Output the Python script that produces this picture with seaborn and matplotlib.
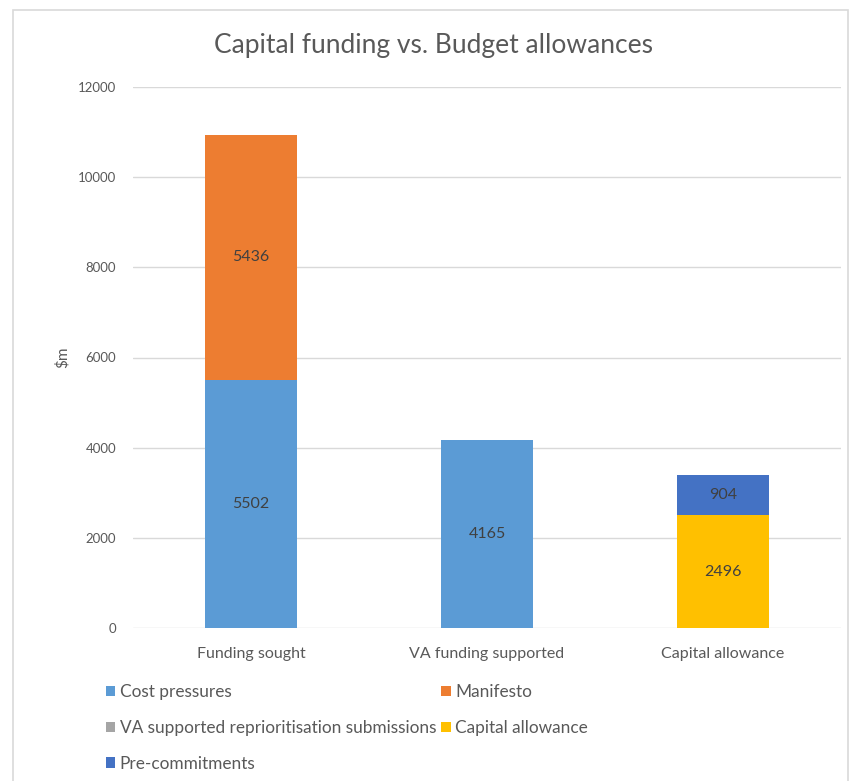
import matplotlib
matplotlib.use("Agg")
import matplotlib.pyplot as plt
import seaborn as sns
import pandas as pd
import numpy as np
from matplotlib.patches import Patch, Rectangle

categories = ["Funding sought", "VA funding supported", "Capital allowance"]
cost_pressures = [5502, 4165, 0]
manifesto = [5436, 0, 0]
va_reprioritisation = [0, 0, 0]
capital_allowance = [0, 0, 2496]
pre_commitments = [0, 0, 904]
series_names = ["Cost pressures", "Manifesto", "VA supported reprioritisation submissions",
                "Capital allowance", "Pre-commitments"]
series_values = [cost_pressures, manifesto, va_reprioritisation, capital_allowance, pre_commitments]
colors = ["#5B9BD5", "#ED7D31", "#A5A5A5", "#FFC000", "#4472C4"]
y_ticks = [0, 2000, 4000, 6000, 8000, 10000, 12000]

sns.set_theme(style="white")
plt.rcParams['font.family'] = ['Lato', 'DejaVu Sans']

fig = plt.figure(figsize=(8.52, 7.81), dpi=100)
ax = fig.add_axes([133/852, 1 - 628/781, (841 - 133)/852, (628 - 87)/781])

# frame around chart
fig.patches.append(Rectangle((13/852, -0.01), (848 - 13)/852, 1 - 10/781 + 0.01,
                             transform=fig.transFigure, fill=False,
                             edgecolor="#D9D9D9", linewidth=1.2))

bottom = np.zeros(len(categories))
for name, vals, col in zip(series_names, series_values, colors):
    df = pd.DataFrame({"cat": categories, "val": vals})
    sns.barplot(data=df, x="cat", y="val", color=col, bottom=bottom, width=0.394,
                ax=ax, saturation=1, edgecolor="none", linewidth=0, errorbar=None)
    for i, v in enumerate(vals):
        if v > 0:
            ax.text(i, bottom[i] + v / 2, str(v), ha="center", va="center",
                    fontsize=11.5, color="#404040")
    bottom = bottom + np.array(vals)

ax.set_ylim(0, 12000)
ax.set_xlim(-0.5, 2.5)
ax.set_yticks(y_ticks)
ax.set_yticklabels([str(t) for t in y_ticks])
ax.yaxis.grid(True, color="#D9D9D9", linewidth=1)
ax.set_axisbelow(True)
for s in ax.spines.values():
    s.set_visible(False)
ax.tick_params(axis="y", length=0, labelsize=9.5, labelcolor="#595959", pad=12)
ax.tick_params(axis="x", length=0, labelsize=11.5, labelcolor="#595959", pad=14)
ax.set_xlabel("")
ax.set_ylabel("$m", fontsize=11, color="#595959", labelpad=6)

fig.text(434/852, 1 - 45/781, "Capital funding vs. Budget allowances", ha="center",
         va="center", fontsize=19, color="#595959")

handles = [Patch(facecolor=colors[i], edgecolor="none", label=series_names[i])
           for i in [0, 2, 4, 1, 3]]
fig.legend(handles=handles, loc="upper left", bbox_to_anchor=(106/852, 1 - 684/781),
           ncol=2, frameon=False, fontsize=12.4, labelcolor="#595959",
           handlelength=0.55, handleheight=0.55, handletextpad=0.25,
           columnspacing=0.3, labelspacing=1.15, borderaxespad=0, borderpad=0)

fig.savefig("out.png", dpi=100, facecolor="white")
